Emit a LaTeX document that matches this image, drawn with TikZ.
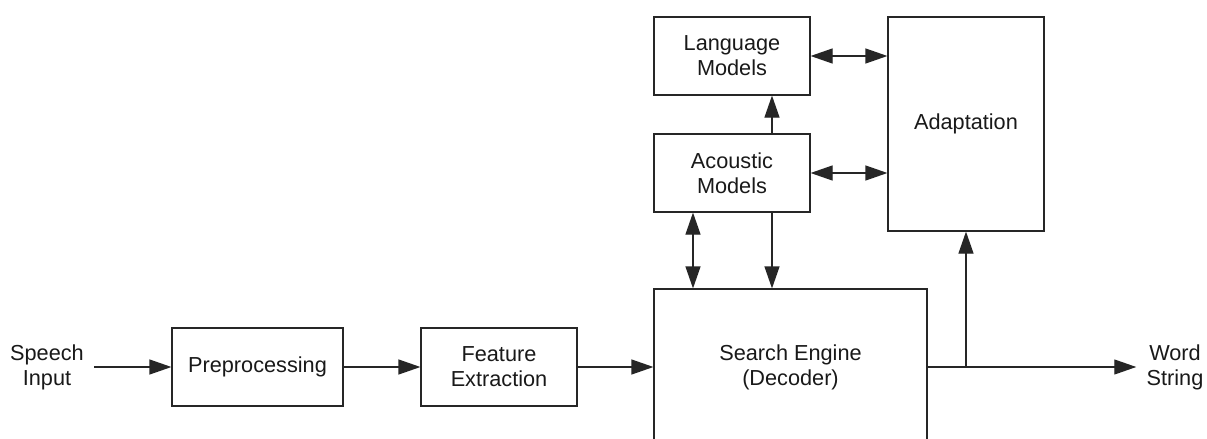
\documentclass[tikz,border=0pt]{standalone}
\usepackage{fontspec}
\setmainfont{Liberation Sans}
\usetikzlibrary{arrows.meta}
\begin{document}
\begin{tikzpicture}[x=0.5pt,y=-0.5pt,
  every node/.style={font=\fontsize{10.85}{12.5}\selectfont, text=black!90, align=center},
  blk/.style={draw=black!85, line width=0.6pt, rectangle, inner sep=0pt},
  lbl/.style={inner xsep=5pt, inner ysep=0pt},
  conn/.style={draw=black!85, line width=0.6pt},
  arr/.style={conn, -{Triangle[length=11pt,width=7.5pt]}},
  darr/.style={conn, {Triangle[length=11pt,width=7.5pt]}-{Triangle[length=11pt,width=7.5pt]}}]
\clip (0,0) rectangle (1207,439);
\fill[white] (0,0) rectangle (1207,439);
% nodes
\node[lbl] (speech) at (47,367) {Speech\\Input};
\node[blk, minimum width=85.5pt, minimum height=39pt] (pre) at (257.5,367) {Preprocessing};
\node[blk, minimum width=78pt, minimum height=39pt] (feat) at (499,367) {Feature\\Extraction};
\node[blk, minimum width=136.5pt, minimum height=78pt] (search) at (790.5,367) {Search Engine\\(Decoder)};
\node[blk, minimum width=78pt, minimum height=39pt] (lm) at (732,56) {Language\\Models};
\node[blk, minimum width=78pt, minimum height=39pt] (am) at (732,173) {Acoustic\\Models};
\node[blk, minimum width=78pt, minimum height=107pt] (adapt) at (966,124) {Adaptation};
\node[lbl] (word) at (1175,367) {Word\\String};
% connectors
\draw[arr] (speech.east) -- (pre.west);
\draw[arr] (pre.east) -- (feat.west);
\draw[arr] (feat.east) -- (search.west);
\draw[arr] ([xshift=20pt]am.north) -- ([xshift=20pt]lm.south);
\coordinate (a1) at ([xshift=-19.5pt]am.south);
\coordinate (a2) at ([xshift=20pt]am.south);
\draw[darr] (a1) -- (a1 |- search.north);
\draw[arr] (a2) -- (a2 |- search.north);
\draw[darr] (lm.east) -- (lm.east -| adapt.west);
\draw[darr] (am.east) -- (am.east -| adapt.west);
\draw[arr] (search.east) -- (word.west);
\coordinate (br) at (adapt.south |- search.east);
\draw[arr] (br) -- (adapt.south);
\end{tikzpicture}
\end{document}
